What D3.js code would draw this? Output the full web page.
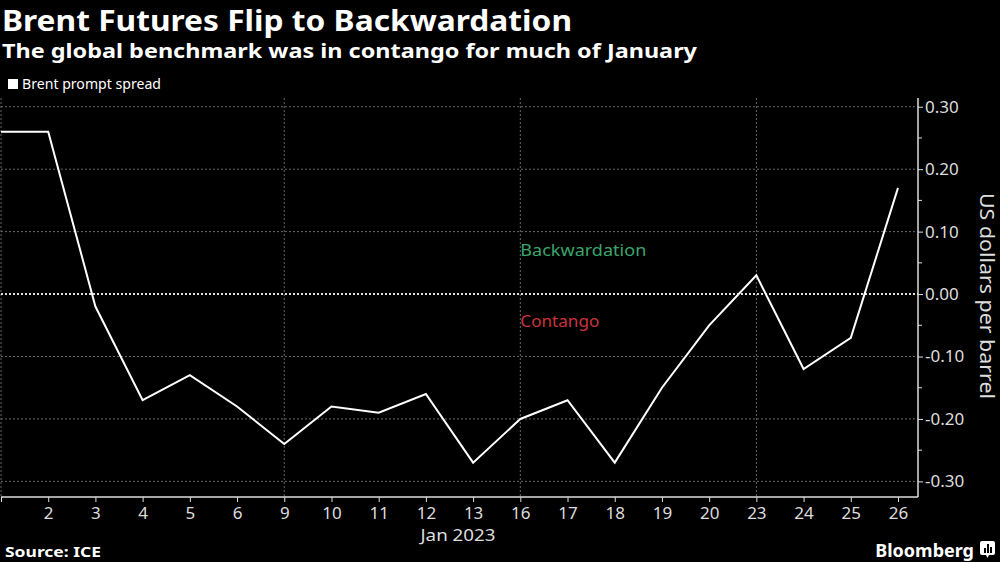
<!DOCTYPE html>
<html><head><meta charset="utf-8">
<script src="https://cdn.jsdelivr.net/npm/d3@7"></script>
<style>
html,body{margin:0;padding:0;background:#000;}
svg{display:block;}
</style></head>
<body>
<svg id="chart" width="1000" height="562"></svg>
<script>
const categories = ["Dec 30","2","3","4","5","6","9","10","11","12","13","16","17","18","19","20","23","24","25","26"];
const spread = [0.26,0.26,-0.02,-0.17,-0.13,-0.18,-0.24,-0.18,-0.19,-0.16,-0.27,-0.20,-0.17,-0.27,-0.15,-0.05,0.03,-0.12,-0.07,0.17];
const xTickLabels = ["","2","3","4","5","6","9","10","11","12","13","16","17","18","19","20","23","24","25","26"];
const weekStarts = ["Dec 30","9","16","23"];
const yTicks = [-0.30,-0.20,-0.10,0.00,0.10,0.20,0.30];
const yMinorTicks = [-0.25,-0.15,-0.05,0.05,0.15,0.25];

const svg = d3.select("#chart");
const font = "'Noto Sans', 'DejaVu Sans', sans-serif";
const pLeft = 1, pRight = 918, pTop = 98, pBottom = 497;

const x = d3.scalePoint().domain(categories).range([1, 898]);
const y = d3.scaleLinear().domain([-0.325, 0.314]).range([pBottom, pTop]);

function fitText(sel, w){
  sel.attr("textLength", w).attr("lengthAdjust","spacingAndGlyphs");
}

// Titles
svg.append("text").attr("x",2).attr("y",31).attr("fill","#fff")
  .attr("font-family",font).attr("font-weight","bold").attr("font-size",29)
  .text("Brent Futures Flip to Backwardation").call(fitText, 570);
svg.append("text").attr("x",2).attr("y",58).attr("fill","#fff")
  .attr("font-family",font).attr("font-weight","bold").attr("font-size",20)
  .text("The global benchmark was in contango for much of January").call(fitText, 695);

// Legend
svg.append("rect").attr("x",8).attr("y",79).attr("width",10).attr("height",10).attr("fill","#fff");
svg.append("text").attr("x",22).attr("y",89).attr("fill","#fff")
  .attr("font-family",font).attr("font-size",14)
  .text("Brent prompt spread").call(fitText, 139);

// Horizontal gridlines
svg.append("g").selectAll("line").data(yTicks.filter(d=>d!==0)).join("line")
  .attr("x1",pLeft).attr("x2",pRight).attr("y1",d=>y(d)).attr("y2",d=>y(d))
  .attr("stroke","#666").attr("stroke-width",1).attr("stroke-dasharray","2,2");
// Vertical gridlines
svg.append("g").selectAll("line").data(weekStarts).join("line")
  .attr("x1",d=>x(d)).attr("x2",d=>x(d)).attr("y1",pTop).attr("y2",pBottom)
  .attr("stroke","#666").attr("stroke-width",1).attr("stroke-dasharray","2,2");
// Zero line
svg.append("line").attr("x1",pLeft).attr("x2",pRight).attr("y1",y(0)).attr("y2",y(0))
  .attr("stroke","#ddd").attr("stroke-width",2).attr("stroke-dasharray","2,2");

// Annotations
svg.append("text").attr("x",x("16")).attr("y",256).attr("fill","#3aa56b")
  .attr("font-family",font).attr("font-size",16).text("Backwardation").call(fitText,126);
svg.append("text").attr("x",x("16")).attr("y",327).attr("fill","#c8343f")
  .attr("font-family",font).attr("font-size",16).text("Contango").call(fitText,79);

// Line
svg.append("path").datum(spread)
  .attr("fill","none").attr("stroke","#fff").attr("stroke-width",2)
  .attr("stroke-linejoin","miter")
  .attr("d", d3.line().x((d,i)=>x(categories[i])).y(d=>y(d)));

// X axis
const xAxis = d3.axisBottom(x).tickSize(5).tickFormat((d,i)=>xTickLabels[i]);
const gx = svg.append("g").attr("transform",`translate(0,${pBottom})`).call(xAxis);
gx.select(".domain").attr("d",`M${pLeft},0H${pRight}`).attr("stroke","#ddd").attr("stroke-width",1.5);
gx.selectAll(".tick line").attr("stroke","#ddd");
gx.selectAll(".tick text").attr("fill","#ddd").attr("font-family",font).attr("font-size",17).attr("dy","0.85em");
svg.append("text").attr("x",458).attr("y",541).attr("text-anchor","middle").attr("fill","#ddd")
  .attr("font-family",font).attr("font-size",17).text("Jan 2023").call(fitText,75);

// Y axis (right)
const yAxis = d3.axisRight(y).tickValues(yTicks).tickSize(5).tickFormat(d3.format(".2f"));
const gy = svg.append("g").attr("transform",`translate(${pRight},0)`).call(yAxis);
gy.select(".domain").attr("d",`M0,${pTop}V${pBottom}`).attr("stroke","#ddd").attr("stroke-width",1.5);
gy.selectAll(".tick line").attr("stroke","#ddd");
gy.selectAll(".tick text").attr("fill","#ddd").attr("font-family",font).attr("font-size",17).attr("x",7)
  .text(d=> d<0 ? "-" + d3.format(".2f")(-d) : d3.format(".2f")(d));
svg.append("g").attr("transform",`translate(${pRight},0)`).selectAll("line").data(yMinorTicks).join("line")
  .attr("x1",0).attr("x2",4).attr("y1",d=>y(d)).attr("y2",d=>y(d)).attr("stroke","#ddd");
svg.append("text").attr("transform",`translate(980,296) rotate(90)`).attr("text-anchor","middle")
  .attr("fill","#ddd").attr("font-family",font).attr("font-size",20).text("US dollars per barrel").call(fitText,206);

// Footer
svg.append("text").attr("x",5).attr("y",557).attr("fill","#fff").attr("font-family",font)
  .attr("font-weight","bold").attr("font-size",15).text("Source: ICE").call(fitText,96);
svg.append("text").attr("x",974).attr("y",557).attr("text-anchor","end").attr("fill","#fff")
  .attr("font-family",font).attr("font-weight","bold").attr("font-size",18).text("Bloomberg");
const logo = svg.append("g").attr("transform","translate(980,541)");
logo.append("rect").attr("width",15).attr("height",14).attr("rx",2).attr("fill","#fff");
logo.append("path").attr("d","M6,14 L7.5,17 L9,14 Z").attr("fill","#fff");
logo.selectAll("rect.b").data([5,9,6]).join("rect").attr("class","b")
  .attr("x",(d,i)=>4+i*3).attr("y",d=>12-d).attr("width",2).attr("height",d=>d).attr("fill","#000");
</script>
</body></html>
